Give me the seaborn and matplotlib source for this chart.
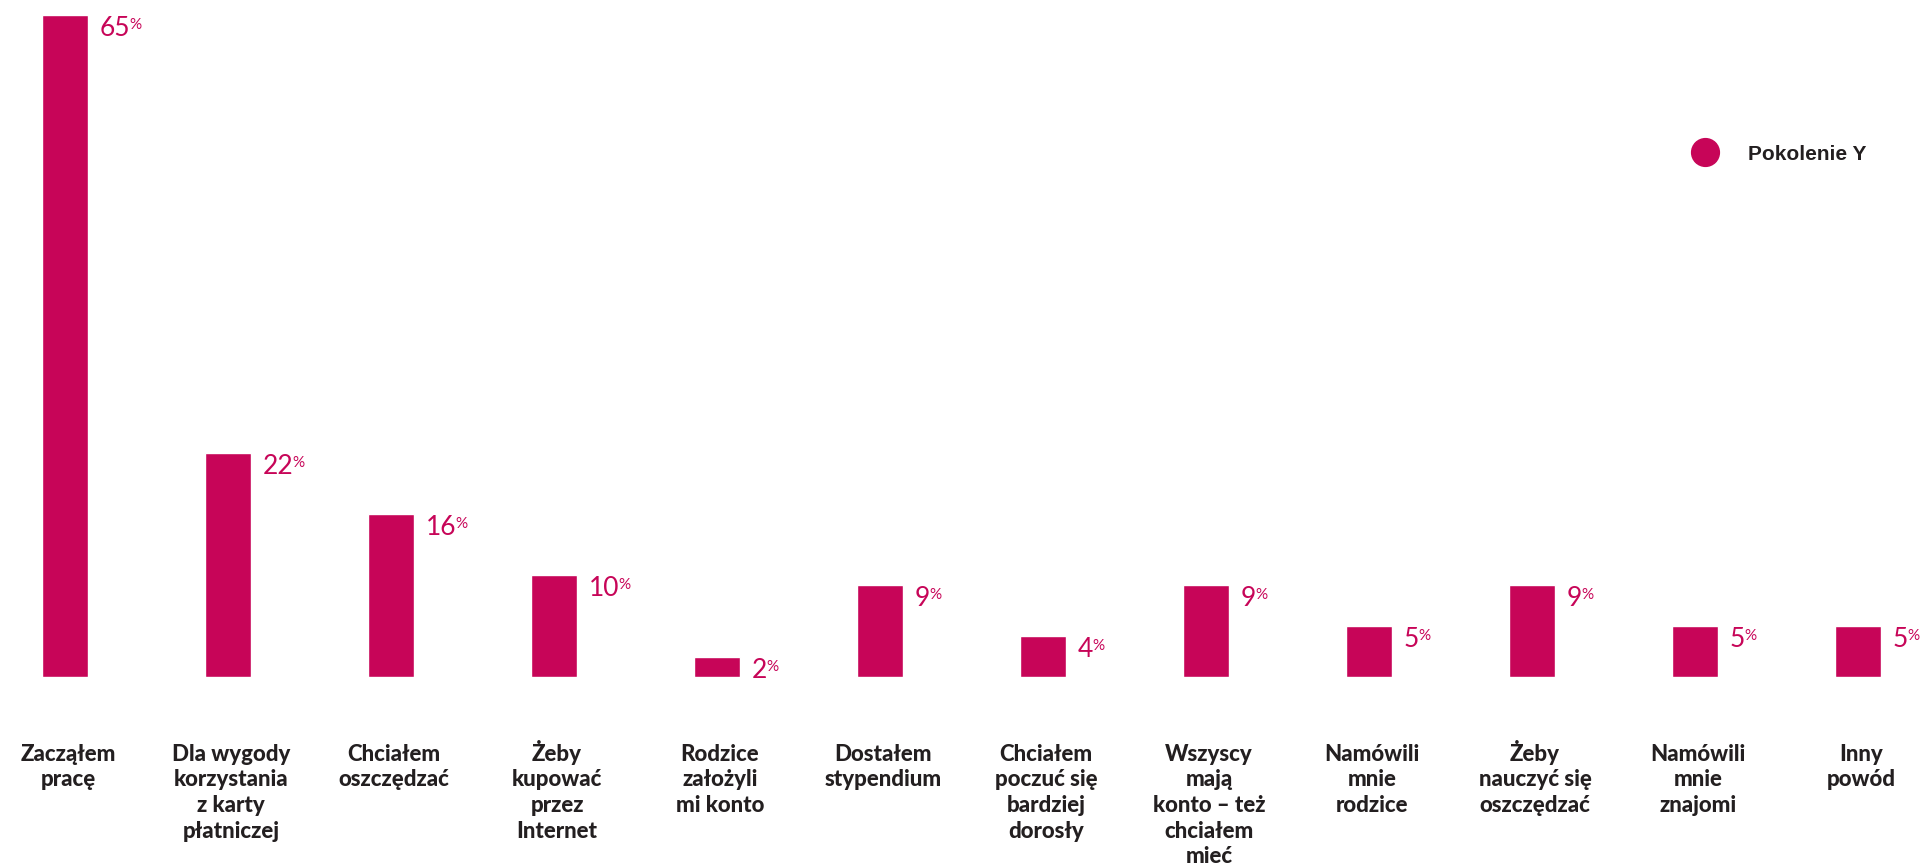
import matplotlib
matplotlib.use("Agg")
import matplotlib.pyplot as plt
import seaborn as sns
from matplotlib.lines import Line2D

categories = [
    "Zacząłem\npracę",
    "Dla wygody\nkorzystania\nz karty\npłatniczej",
    "Chciałem\noszczędzać",
    "Żeby\nkupować\nprzez\nInternet",
    "Rodzice\nzałożyli\nmi konto",
    "Dostałem\nstypendium",
    "Chciałem\npoczuć się\nbardziej\ndorosły",
    "Wszyscy\nmają\nkonto – też\nchciałem\nmieć",
    "Namówili\nmnie\nrodzice",
    "Żeby\nnauczyć się\noszczędzać",
    "Namówili\nmnie\nznajomi",
    "Inny\npowód",
]
values = [65, 22, 16, 10, 2, 9, 4, 9, 5, 9, 5, 5]
series_name = "Pokolenie Y"

pink = "#c70558"
dark = "#231f20"

sns.set_theme(style="white")
plt.rcParams["font.family"] = ["Lato", "DejaVu Sans"]

W, H = 1921, 864
fig = plt.figure(figsize=(W / 100, H / 100), dpi=100)
ax = fig.add_axes([0, 187 / H, 1, (849.3 - 187) / H])

sns.barplot(x=categories, y=values, color=pink, width=0.282, saturation=1, ax=ax)
ax.set_xlim(-0.399, 11.387)
ax.set_ylim(0, 65)
sns.despine(ax=ax, left=True, bottom=True)
ax.set_yticks([])
ax.set_xticks(range(len(categories)), [""] * len(categories))
ax.set_xlabel("")
ax.set_ylabel("")
ax.tick_params(axis="x", length=0)

# category names, line by line so every first line sits on the same baseline
for i, cat in enumerate(categories):
    for j, line in enumerate(cat.split("\n")):
        ax.annotate(line, xy=(i, 0), xytext=(3, -84 - j * 25.5),
                    textcoords="offset pixels", ha="center", va="baseline",
                    fontsize=16, fontweight="black", color=dark)

for i, v in enumerate(values):
    num = ax.annotate(str(v), xy=(i + 0.141, v), xytext=(12, -21),
                      textcoords="offset pixels", ha="left", va="baseline",
                      fontsize=19, fontweight="normal", color=pink)
    ax.annotate("%", xy=(1, 1), xycoords=num, xytext=(-1, -2),
                textcoords="offset pixels", ha="left", va="top",
                fontsize=11, fontweight="normal", color=pink)

handle = Line2D([], [], marker="o", linestyle="none", markersize=20,
                markerfacecolor=pink, markeredgecolor=pink)
leg = fig.legend([handle], [series_name], loc="center left",
                 bbox_to_anchor=(1694.6 / W, 710 / H), frameon=False,
                 borderpad=0, borderaxespad=0, handlelength=1.0,
                 handletextpad=1.57, prop={"family": "Liberation Sans",
                                           "weight": "bold", "size": 15})
for t in leg.get_texts():
    t.set_color(dark)

fig.savefig("out.png", dpi=100)
